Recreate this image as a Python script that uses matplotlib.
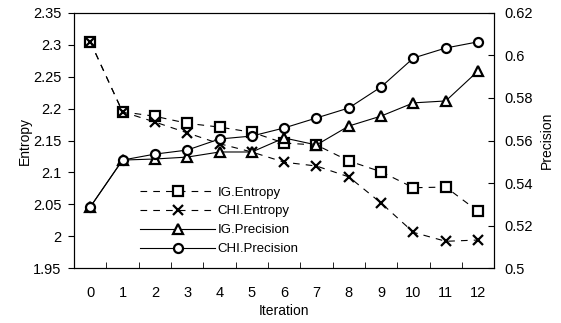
import numpy as np
import matplotlib.pyplot as plt

plt.rcParams['font.family'] = ['Liberation Sans', 'DejaVu Sans']

iterations = np.arange(13)
ig_entropy = [2.305, 2.195, 2.188, 2.177, 2.171, 2.163, 2.146, 2.143, 2.118, 2.101, 2.076, 2.077, 2.039]
chi_entropy = [2.305, 2.195, 2.179, 2.162, 2.145, 2.132, 2.116, 2.110, 2.093, 2.052, 2.006, 1.992, 1.994]
ig_precision = [0.5287, 0.5508, 0.5513, 0.5522, 0.5546, 0.5546, 0.5612, 0.5579, 0.5668, 0.5715, 0.5777, 0.5786, 0.5927]
chi_precision = [0.5287, 0.5508, 0.5536, 0.5555, 0.5607, 0.5621, 0.5659, 0.5706, 0.5753, 0.5852, 0.5988, 0.6035, 0.6064]


def main():
    fig = plt.figure(figsize=(5.61, 3.23), dpi=100)
    ax = fig.add_axes([0.132, 0.170, 0.749, 0.790])
    ax2 = ax.twinx()

    mk = dict(color='black', markerfacecolor='white', markeredgecolor='black',
              markersize=6.5, markeredgewidth=1.6, lw=0.8)
    dash = (0, (6, 5.5))
    l1, = ax.plot(iterations, ig_entropy, marker='s', linestyle=dash,
                  label='IG.Entropy', **mk)
    l2, = ax.plot(iterations, chi_entropy, marker='x', linestyle=dash,
                  label='CHI.Entropy', **mk)
    l3, = ax2.plot(iterations, ig_precision, marker='^', linestyle='-',
                   label='IG.Precision', **mk)
    l4, = ax2.plot(iterations, chi_precision, marker='o', linestyle='-',
                   label='CHI.Precision', **mk)

    ax.set_xlim(-0.5, 12.5)
    ax.set_ylim(1.95, 2.35)
    ax2.set_ylim(0.5, 0.62)
    ax.set_yticks(np.arange(1.95, 2.351, 0.05))
    ax.set_yticklabels(['1.95', '2', '2.05', '2.1', '2.15', '2.2', '2.25', '2.3', '2.35'])
    ax2.set_yticks(np.arange(0.5, 0.621, 0.02))
    ax2.set_yticklabels(['0.5', '0.52', '0.54', '0.56', '0.58', '0.6', '0.62'])

    ax.set_xticks(iterations)
    ax.set_xticks(np.arange(0.5, 12.0, 1.0), minor=True)
    ax.tick_params(axis='x', which='major', length=0, pad=13, labelsize=10.5)
    ax.tick_params(axis='x', which='minor', direction='in', length=4)
    ax.tick_params(axis='y', direction='out', length=4, pad=5, labelsize=10.5)
    ax2.tick_params(axis='y', direction='in', length=4, pad=7, labelsize=10.5)

    ax.set_xlabel('Iteration', fontsize=10, labelpad=3)
    ax.set_ylabel('Entropy', fontsize=10, labelpad=1)
    ax2.set_ylabel('Precision', fontsize=10, labelpad=5)

    ax.legend(handles=[l1, l2, l3, l4], loc='lower left', bbox_to_anchor=(0.145, 0.03),
              frameon=False, fontsize=9.5, handlelength=5.7, handletextpad=0.15,
              labelspacing=0.5, borderaxespad=0)

    fig.savefig('out.png', dpi=100)


main()
